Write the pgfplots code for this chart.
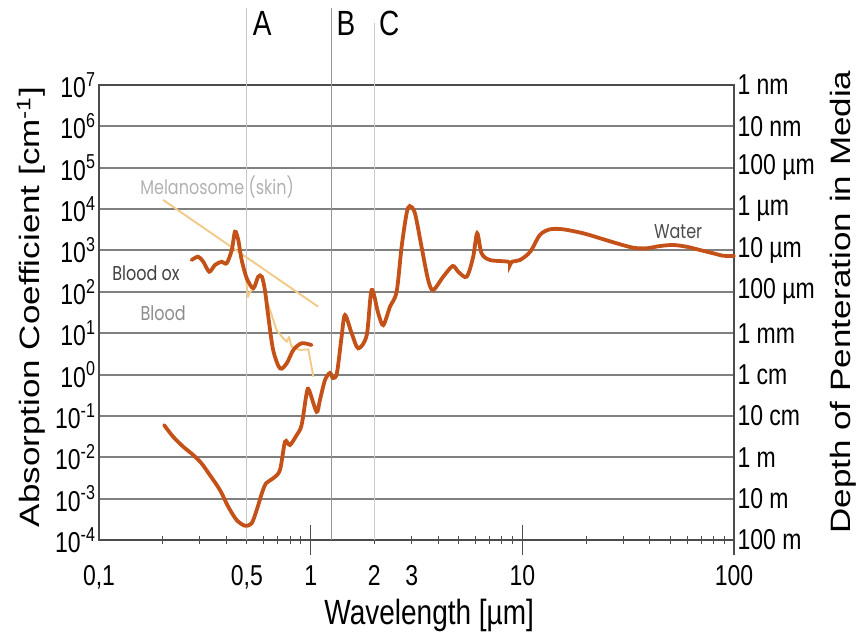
\documentclass[border=0pt]{standalone}
\usepackage{pgfplots}
\pgfplotsset{compat=1.18}
\usepackage{fontspec}
\setmainfont{Liberation Sans}
\newfontfamily\geo{Poppins}
\usepackage{graphicx}
\definecolor{curvec}{RGB}{196,82,24}
\definecolor{melc}{RGB}{241,202,135}
\definecolor{gridc}{RGB}{128,128,128}
\newcommand\vs[1]{\scalebox{1}[1.25]{#1}}
\newcommand\hs[1]{\scalebox{1.25}[1]{#1}}
\tikzset{
  rlab/.style={anchor=west, font=\fontsize{23}{23}\selectfont},
  curvelab/.style={font=\geo\fontsize{16}{16}\selectfont, inner sep=0pt},
}

\begin{document}
\begin{tikzpicture}
\begin{axis}[
  scale only axis, width=635pt, height=455pt,
  xmode=log, ymode=log,
  xmin=0.1, xmax=100, ymin=1e-4, ymax=1e7,
  clip=false,
  axis line style={draw=black!70, line width=1.6pt},
  xtick={0.1,0.5,1,2,3,10,100},
  xticklabels={{\vs{0,1}},{\vs{0,5}},\vs{1},\vs{2},\vs{3},\vs{10},\vs{100}},
  minor xtick={0.2,0.3,0.4,0.5,0.6,0.7,0.8,0.9,2,3,4,5,6,7,8,9,20,30,40,50,60,70,80,90},
  major tick length=0pt,
  minor tick length=8pt,
  tick align=center,
  xtick pos=bottom, ytick pos=left,
  minor tick style={draw=black!70, line width=1pt},
  extra x ticks={1,10,100},
  extra x tick labels={},
  extra x tick style={major tick length=30pt, tick style={draw=black!70, line width=1.4pt}},
  yminorticks=false,
  ytick={1e-4,1e-3,1e-2,1e-1,1,1e1,1e2,1e3,1e4,1e5,1e6,1e7},
  yticklabels={\vs{10\textsuperscript{-4}},\vs{10\textsuperscript{-3}},\vs{10\textsuperscript{-2}},
    \vs{10\textsuperscript{-1}},\vs{10\textsuperscript{0}},\vs{10\textsuperscript{1}},
    \vs{10\textsuperscript{2}},\vs{10\textsuperscript{3}},\vs{10\textsuperscript{4}},
    \vs{10\textsuperscript{5}},\vs{10\textsuperscript{6}},\vs{10\textsuperscript{7}}},
  ymajorgrids=true,
  grid style={draw=gridc, line width=2pt},
  tick label style={font=\fontsize{23}{23}\selectfont},
  xticklabel style={anchor=north, yshift=-22pt},
  yticklabel style={anchor=east},
  xlabel={\vs{Wavelength [µm]}},
  xlabel style={font=\fontsize{28}{28}\selectfont, at={(rel axis cs:0.52,-0.165)}, anchor=center},
  ylabel={\hs{Absorption Coefficient [cm\textsuperscript{-1}]}},
  ylabel style={font=\fontsize{28}{28}\selectfont, at={(rel axis cs:-0.107,0.512)}, anchor=center},
]
\coordinate (LL) at (rel axis cs:0,0);
\coordinate (UR) at (rel axis cs:1,1);

%% marker lines A, B, C
\draw[draw=black!22, line width=1pt] (axis cs:0.5,1e-4) -- ([yshift=77pt]axis cs:0.5,1e7);
\draw[draw=black!42, line width=1.1pt] (axis cs:1.26,1e-4) -- ([yshift=77pt]axis cs:1.26,1e7);
\draw[draw=black!20, line width=1pt] (axis cs:2,1e-4) -- ([yshift=62pt]axis cs:2,1e7);
\node[font=\fontsize{28}{28}\selectfont] at (rel axis cs:0.257,1.136) {\vs{A}};
\node[font=\fontsize{28}{28}\selectfont] at (rel axis cs:0.389,1.136) {\vs{B}};
\node[font=\fontsize{28}{28}\selectfont] at (rel axis cs:0.457,1.136) {\vs{C}};

%% melanosome
\addplot[draw=melc, line width=1.9pt] coordinates {(0.201,16600) (1.086,43.6)};
%% blood (deoxy)
\addplot[draw=melc, line width=1.9pt, line join=round] coordinates {
  (0.455,1790) (0.472,588) (0.495,200) (0.506,75) (0.515,95) (0.536,122)
  (0.565,232) (0.588,232) (0.608,110) (0.619,63.4) (0.643,36.3) (0.690,11.9)
  (0.743,7.5) (0.771,6.2) (0.790,8.1) (0.813,4.7) (0.889,3.92) (0.975,4.07) (1.03,0.885)
};
%% blood ox
\addplot[draw=curvec, line width=3.8pt, smooth, tension=0.5, line cap=round] coordinates {
  (0.274,588) (0.294,706) (0.311,534) (0.332,306) (0.353,445) (0.380,534)
  (0.401,489) (0.424,1025) (0.439,2840) (0.455,1790) (0.472,588) (0.499,212)
  (0.536,122) (0.565,232) (0.588,232) (0.608,110) (0.631,25.0) (0.665,3.92)
  (0.716,1.41) (0.771,1.87) (0.828,3.92) (0.906,5.69) (1.01,5.17)
};
%% water
\addplot[draw=curvec, line width=3.8pt, smooth, tension=0.5, line cap=round] coordinates {
  (0.203,0.060) (0.224,0.0314) (0.250,0.0180) (0.279,0.0113) (0.305,0.00713)
  (0.334,0.00372) (0.373,0.00161) (0.408,0.000637) (0.447,0.000304) (0.490,0.000221)
  (0.526,0.000253) (0.556,0.000530) (0.588,0.00134) (0.615,0.00234) (0.665,0.00310)
  (0.716,0.00491) (0.757,0.0238) (0.798,0.0198) (0.859,0.0345) (0.906,0.060)
  (0.957,0.352) (0.982,0.423) (1.067,0.126) (1.106,0.242) (1.169,0.738)
  (1.234,1.09) (1.274,0.824) (1.331,1.09) (1.40,8.2) (1.452,27.5) (1.563,9.9)
  (1.679,4.3) (1.840,9.0) (1.941,110) (2.086,30.2) (2.203,15.7) (2.37,43.6)
  (2.547,100) (2.69,1230) (2.84,7900) (2.94,11860) (3.11,7900) (3.34,1230)
  (3.59,193) (3.79,110) (4.23,232) (4.69,421) (4.98,306) (5.46,232) (5.86,706)
  (6.12,2600) (6.42,853) (7.03,588) (8.58,534) (8.74,445) (8.93,534) (9.75,588)
  (10.9,933) (12.1,2360) (13.5,3240) (15.6,3240) (19.4,2600) (23.3,1970)
  (27.9,1490) (33.4,1165) (38.6,1127) (44.7,1280) (51.6,1355) (59.7,1230)
  (69.0,1025) (79.8,853) (88.9,746) (100,734)
};

%% curve names
\node[curvelab, text=black!30] at (rel axis cs:0.186,0.776) {\vs{Melanosome (skin)}};
\node[curvelab, text=black!75] at (rel axis cs:0.074,0.587) {\vs{Blood ox}};
\node[curvelab, text=black!45] at (rel axis cs:0.101,0.499) {\vs{Blood}};
\node[curvelab, text=black!70] at (rel axis cs:0.912,0.677) {\vs{Water}};

%% right-hand depth scale
\node[rlab] at (axis cs:100,1e7) {\vs{1 nm}};
\node[rlab] at (axis cs:100,1e6) {\vs{10 nm}};
\node[rlab] at (axis cs:100,1e5) {\vs{100 µm}};
\node[rlab] at (axis cs:100,1e4) {\vs{1 µm}};
\node[rlab] at (axis cs:100,1e3) {\vs{10 µm}};
\node[rlab] at (axis cs:100,1e2) {\vs{100 µm}};
\node[rlab] at (axis cs:100,1e1) {\vs{1 mm}};
\node[rlab] at (axis cs:100,1) {\vs{1 cm}};
\node[rlab] at (axis cs:100,1e-1) {\vs{10 cm}};
\node[rlab] at (axis cs:100,1e-2) {\vs{1 m}};
\node[rlab] at (axis cs:100,1e-3) {\vs{10 m}};
\node[rlab] at (axis cs:100,1e-4) {\vs{100 m}};
\node[rotate=90, font=\fontsize{28}{28}\selectfont] at (rel axis cs:1.1717,0.523)
  {\hs{Depth of Penteration in Media}};
\end{axis}
\pgfresetboundingbox
\path[use as bounding box] ([xshift=-99pt,yshift=-96pt]LL) rectangle ([xshift=123pt,yshift=85pt]UR);
\end{tikzpicture}
\end{document}
